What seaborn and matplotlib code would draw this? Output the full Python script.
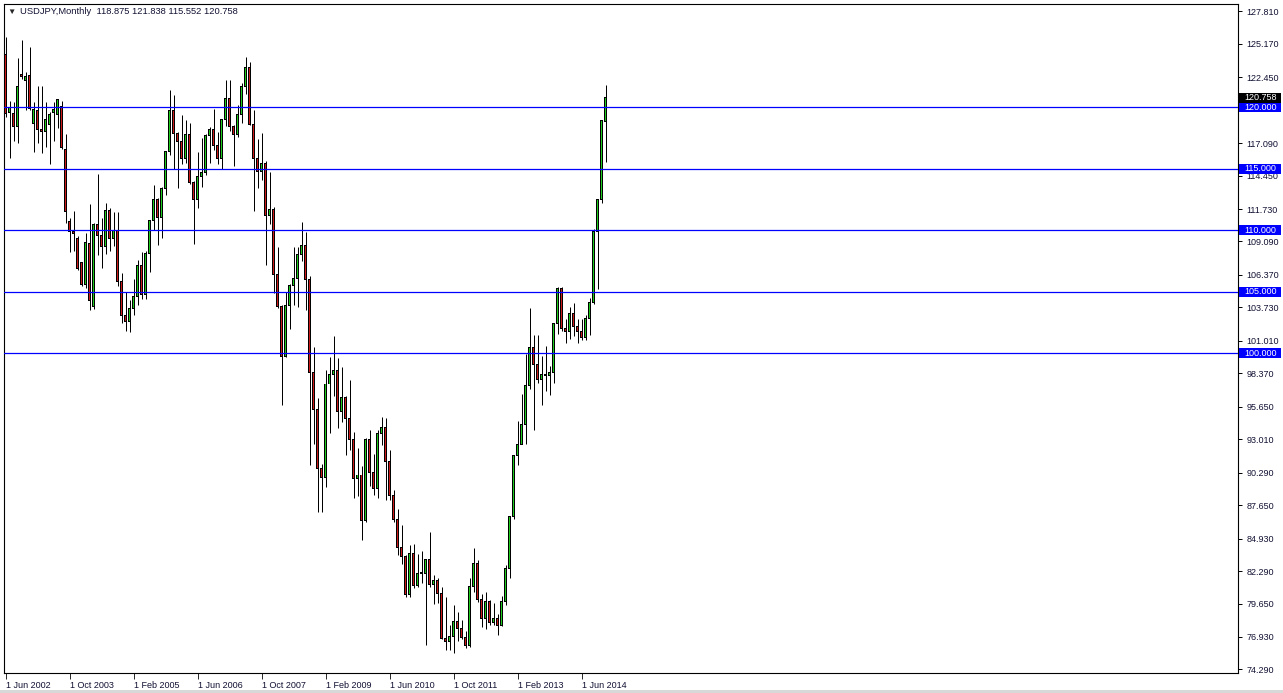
import numpy as np
import pandas as pd
import matplotlib
matplotlib.use("Agg")
import matplotlib.pyplot as plt
from matplotlib.patches import Rectangle
import seaborn as sns

# USDJPY monthly candles, Jun 2002 .. Dec 2014
first_month = "2002-06-01"

opens = [
    124.3, 119.6, 119.5, 118.4, 122.7, 122.2, 122.6,
    118.7, 119.7, 118.2, 118.0, 118.6, 119.6, 119.4, 120.1, 116.6, 110.7, 109.9, 109.3,
    107.4, 105.6, 108.9, 103.8, 110.5, 109.6, 108.7, 111.6, 109.3, 110.0, 105.8, 103.1,
    102.6, 103.6, 104.6, 107.1, 104.8, 108.1, 110.8, 112.5, 111.0, 113.4, 116.4, 119.7,
    117.9, 117.2, 115.8, 117.8, 113.9, 112.5, 114.4, 114.7, 117.7, 118.2, 116.9, 115.8,
    119.0, 120.7, 118.4, 117.8, 119.4, 121.7, 123.2, 118.6, 115.8, 114.8, 115.4, 111.2,
    111.7, 106.4, 103.8, 99.7, 103.9, 105.5, 106.1, 108.0, 108.8, 106.0, 98.4, 95.4,
    90.6, 89.9, 97.5, 98.3, 98.6, 95.3, 96.4, 94.7, 93.0, 89.8, 90.1, 86.4,
    93.0, 90.3, 89.0, 93.5, 94.0, 91.2, 88.4, 86.5, 84.2, 83.5, 80.4, 83.7,
    81.1, 82.1, 82.1, 83.2, 81.2, 81.5, 80.5, 76.8, 76.6, 77.0, 78.2, 77.6,
    76.9, 76.2, 81.0, 82.9, 80.0, 78.4, 79.8, 78.1, 78.4, 77.9, 79.8, 82.5,
    86.7, 91.7, 92.6, 94.2, 97.4, 100.5, 99.1, 97.9, 98.3, 98.2, 98.4, 102.4,
    105.3, 102.0, 101.8, 103.2, 102.2, 101.8, 101.3, 102.8, 104.1, 109.9, 112.5, 118.875,
]
highs = [
    125.7, 120.5, 120.4, 124.0, 125.5, 122.9, 124.9,
    120.4, 121.7, 121.7, 120.4, 119.6, 120.4, 120.6, 120.5, 117.8, 111.0, 111.6, 109.5,
    107.4, 109.8, 112.1, 110.6, 114.6, 111.0, 112.2, 111.8, 111.5, 111.5, 106.5, 105.0,
    104.3, 106.0, 107.6, 108.2, 108.3, 110.8, 113.7, 112.6, 113.5, 116.4, 121.4, 121.0,
    118.0, 119.4, 119.0, 118.7, 114.0, 116.4, 117.5, 117.8, 118.4, 119.9, 118.0, 119.0,
    122.2, 122.2, 118.6, 120.2, 122.0, 124.1, 123.7, 119.8, 117.4, 117.9, 115.6, 114.7,
    111.9, 108.6, 103.9, 105.0, 105.6, 108.6, 108.6, 110.7, 109.9, 106.3, 100.5, 96.4,
    91.0, 98.6, 99.7, 101.4, 99.6, 98.9, 96.5, 97.8, 93.6, 92.3, 90.8, 93.1,
    93.8, 91.8, 93.8, 94.8, 94.7, 92.1, 88.9, 87.3, 86.0, 83.6, 84.4, 84.5,
    83.7, 83.9, 83.3, 85.5, 82.0, 81.7, 81.0, 80.2, 77.9, 79.5, 79.0, 78.3,
    77.4, 81.7, 84.2, 83.2, 80.4, 80.6, 79.9, 79.7, 78.8, 80.3, 82.8, 86.7,
    91.7, 94.5, 96.7, 99.9, 103.7, 101.5, 101.5, 99.8, 100.6, 99.0, 102.5, 105.4,
    105.4, 102.8, 103.8, 104.1, 102.8, 102.8, 103.1, 104.5, 110.1, 112.5, 119.0, 121.838,
]
lows = [
    119.2, 115.9, 117.3, 117.1, 122.3, 119.8, 119.8,
    116.4, 117.1, 116.3, 116.8, 115.4, 117.3, 118.3, 116.6, 110.6, 108.2, 108.3, 106.8,
    105.5, 105.3, 103.5, 103.6, 108.0, 106.9, 108.1, 108.3, 108.7, 105.5, 102.5, 101.8,
    101.7, 103.1, 103.9, 104.4, 104.4, 106.6, 110.0, 108.8, 109.4, 112.9, 116.1, 115.0,
    113.4, 115.4, 115.5, 113.8, 108.9, 111.8, 113.5, 114.5, 115.5, 116.5, 115.4, 115.0,
    118.5, 118.1, 115.2, 117.6, 118.7, 121.1, 118.6, 111.6, 113.4, 114.1, 107.2, 110.5,
    104.9, 103.7, 95.8, 99.7, 102.0, 103.9, 103.8, 107.5, 103.5, 90.9, 92.6, 87.1,
    87.1, 89.1, 93.5, 96.5, 93.9, 94.4, 91.7, 92.1, 88.2, 88.4, 84.8, 86.3,
    89.2, 88.5, 88.2, 92.5, 88.1, 88.1, 86.3, 83.6, 82.9, 80.2, 80.2, 80.9,
    81.0, 81.3, 76.3, 81.0, 79.6, 79.7, 76.8, 75.9, 75.9, 75.6, 76.6, 76.8,
    76.0, 76.1, 80.6, 79.8, 77.7, 77.6, 77.9, 77.9, 77.1, 77.8, 79.5, 81.7,
    86.5, 90.9, 92.6, 92.6, 97.1, 93.8, 97.6, 95.8, 96.9, 96.6, 97.6, 101.6,
    101.8, 100.8, 101.2, 101.4, 100.8, 101.1, 101.1, 101.5, 104.0, 105.2, 112.2, 115.552,
]
closes = [
    119.5, 120.0, 118.4, 121.7, 122.5, 122.5, 119.9,
    119.8, 118.2, 118.0, 119.0, 119.4, 119.8, 120.6, 116.7, 111.5, 109.9, 109.7, 106.9,
    105.6, 109.0, 104.3, 110.5, 109.6, 108.7, 111.6, 109.3, 110.0, 105.8, 103.1, 102.6,
    103.6, 104.6, 107.1, 104.8, 108.1, 110.8, 112.5, 111.0, 113.4, 116.4, 119.7, 117.9,
    117.2, 115.8, 117.8, 113.9, 112.5, 114.4, 114.7, 117.7, 118.2, 116.9, 115.8, 119.0,
    120.7, 118.4, 117.8, 119.4, 121.7, 123.2, 118.6, 115.8, 114.8, 115.4, 111.2, 111.7,
    106.4, 103.8, 99.7, 103.9, 105.5, 106.1, 108.0, 108.8, 106.0, 98.4, 95.4, 90.6,
    89.9, 97.5, 98.3, 98.6, 95.3, 96.4, 94.7, 93.0, 89.8, 90.1, 86.4, 93.0,
    90.3, 89.0, 93.5, 94.0, 91.2, 88.4, 86.5, 84.2, 83.5, 80.4, 83.7, 81.1,
    82.1, 82.1, 83.2, 81.2, 81.5, 80.5, 76.8, 76.6, 77.0, 78.2, 77.6, 76.9,
    76.2, 81.0, 82.9, 80.0, 78.4, 79.8, 78.1, 78.4, 77.9, 79.8, 82.5, 86.7,
    91.7, 92.6, 94.2, 97.4, 100.5, 99.1, 97.9, 98.3, 98.2, 98.4, 102.4, 105.3,
    102.0, 101.8, 103.2, 102.2, 101.8, 101.3, 102.8, 104.1, 109.9, 112.5, 118.9, 120.758,
]

levels = [120.0, 115.0, 110.0, 105.0, 100.0]
last_price = 120.758
price_ticks = [127.81, 125.17, 122.45, 117.09, 114.45, 111.73, 109.09, 106.37,
               103.73, 101.01, 98.37, 95.65, 93.01, 90.29, 87.65, 84.93, 82.29,
               79.65, 76.93, 74.29]
date_ticks = ["2002-06-01", "2003-10-01", "2005-02-01", "2006-06-01", "2007-10-01",
              "2009-02-01", "2010-06-01", "2011-10-01", "2013-02-01", "2014-06-01"]

df = pd.DataFrame({"open": opens, "high": highs, "low": lows, "close": closes})
df["date"] = pd.date_range(first_month, periods=len(df), freq="MS")
df["pos"] = np.arange(len(df))
df["up"] = df["close"] >= df["open"]

sns.set_theme(style="white")
plt.rcParams["font.family"] = ["Liberation Sans", "DejaVu Sans"]

W, H = 1283, 693
FS = 6.5
fig = plt.figure(figsize=(W / 100, H / 100), dpi=100)
fig.patch.set_facecolor("white")
ax = fig.add_axes([4 / W, 20 / H, 1234 / W, 669 / H])
ax.set_facecolor("white")

# wicks
ax.vlines(df["pos"], df["low"], df["high"], color="black", linewidth=0.72, zorder=2)
# bodies: black outline box, coloured core inside
body_h = (df["close"] - df["open"]).abs().clip(lower=0.09)
body_b = df[["open", "close"]].min(axis=1)
ax.bar(df["pos"], body_h + 0.08, bottom=body_b - 0.04, width=0.75, color="black",
       linewidth=0, zorder=3)
inner = body_h > 0.2
colors = np.where(df["up"], "#1ecc1e", "#cc1a1a")
ax.bar(df["pos"][inner], body_h[inner] - 0.08, bottom=body_b[inner] + 0.04,
       width=0.27, color=colors[inner.to_numpy()], linewidth=0, zorder=3.5)

# horizontal levels
for lv in levels:
    ax.axhline(lv, color="#0000ff", linewidth=0.9, zorder=4)

ax.set_xlim(-0.375, 308.125)
ax.set_ylim(74.0, 128.4)

for s in ax.spines.values():
    s.set_color("black")
    s.set_linewidth(0.8)

ax.yaxis.tick_right()
ax.set_yticks(price_ticks)
ax.set_yticklabels([f"{t:.3f}" for t in price_ticks])
ax.tick_params(axis="y", direction="out", length=3, width=0.7, pad=3,
               labelsize=FS, colors="black", right=True, left=False)
for lab in ax.get_yticklabels():
    lab.set_color("#111133")

tick_pos = [int(df.index[df["date"] == pd.Timestamp(d)][0]) for d in date_ticks]
tick_lab = [f"{pd.Timestamp(d).day} {pd.Timestamp(d).strftime('%b %Y')}" for d in date_ticks]
ax.set_xticks(tick_pos)
ax.set_xticklabels(tick_lab)
for lab in ax.get_xticklabels():
    lab.set_ha("left")
    lab.set_color("#111133")
ax.tick_params(axis="x", direction="out", length=4, width=0.7, pad=2,
               labelsize=FS, bottom=True)

# price boxes on the right scale
fig.canvas.draw()
def add_box(price, face):
    y_disp = ax.transData.transform((0, price))[1]
    fig.patches.append(Rectangle((1239 / W, (y_disp - 5) / H), 42 / W, 10 / H,
                                 transform=fig.transFigure, fc=face, ec="none",
                                 zorder=5))
    fig.text(1244 / W, y_disp / H, f"{price:.3f}", ha="left", va="center",
             fontsize=FS, color="white", zorder=6)

for lv in levels:
    add_box(lv, "#0000ff")
add_box(last_price, "black")

fig.text(11 / W, 1 - 12 / H, "\u25bc", fontsize=6, ha="center", va="center")
fig.text(20 / W, 1 - 12 / H, "USDJPY,Monthly  118.875 121.838 115.552 120.758",
         fontsize=6.75, ha="left", va="center", color="#111133")

# window edge at the bottom
fig.patches.append(Rectangle((0, 0), 1, 3 / H, transform=fig.transFigure,
                             fc="#d8d8d8", ec="none", zorder=1))

fig.savefig("out.png", dpi=100, facecolor="white")
